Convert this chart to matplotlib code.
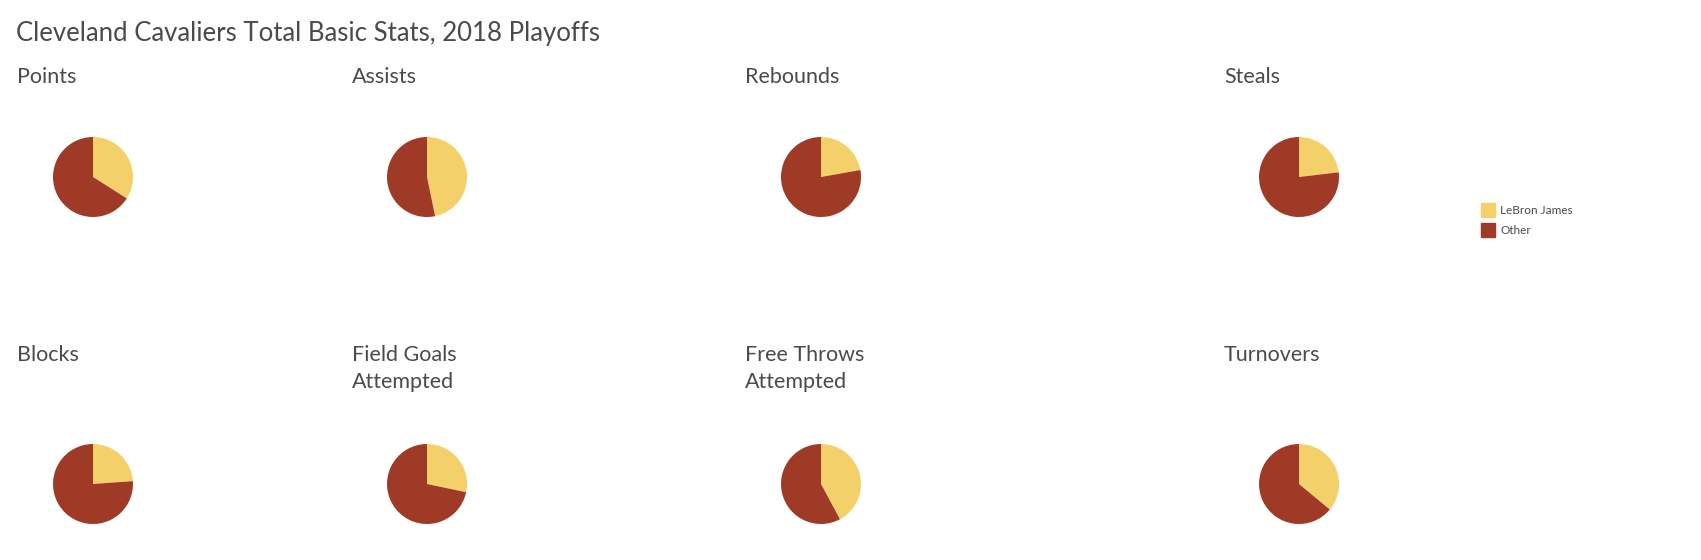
import matplotlib
matplotlib.use("Agg")
import matplotlib.pyplot as plt

# values (LeBron James vs rest of team)
stats = ["Points", "Assists", "Rebounds", "Steals",
         "Blocks", "Field Goals\nAttempted", "Free Throws\nAttempted", "Turnovers"]
lebron = [748, 201, 190, 31, 21, 539, 209, 94]
other = [1452, 229, 666, 103, 67, 1366, 287, 167]
series_names = ["LeBron James", "Other"]
colors = ["#F4D06B", "#9E3A26"]

W, H = 1701, 560
DPI = 100
TXT = "#4a4a4a"
plt.rcParams["font.family"] = ["Lato", "DejaVu Sans"]

fig = plt.figure(figsize=(W / DPI, H / DPI), dpi=DPI)


def px(x, y):
    # pixel coords (top-left origin) -> figure fraction
    return x / W, 1 - y / H


fig.text(*px(16, 33), "Cleveland Cavaliers Total Basic Stats, 2018 Playoffs",
         fontsize=18.5, color=TXT, va="center", ha="left")

col_text_x = [17, 352, 745, 1224]
col_pie_x = [93, 427, 821, 1299]
row_label_y = [77, 355]
row_pie_y = [177, 484]
R = 40
box = 100

for i, name in enumerate(stats):
    r, c = divmod(i, 4)
    lines = name.split("\n")
    for k, line in enumerate(lines):
        fig.text(*px(col_text_x[c], row_label_y[r] + 27 * k), line,
                 fontsize=15.5, color=TXT, va="center", ha="left")
    cx, cy = col_pie_x[c], row_pie_y[r]
    ax = fig.add_axes([(cx - box / 2) / W, 1 - (cy + box / 2) / H, box / W, box / H])
    ax.pie([lebron[i], other[i]], colors=colors, startangle=90,
           counterclock=False, radius=1.0,
           wedgeprops=dict(linewidth=0))
    lim = box / 2 / R
    ax.set_xlim(-lim, lim)
    ax.set_ylim(-lim, lim)
    ax.set_aspect("equal")
    ax.axis("off")

# legend
for j, (lab, col) in enumerate(zip(series_names, colors)):
    y0 = 203 + 20 * j
    fig.patches.append(plt.Rectangle(px(1481, y0 + 14), 14 / W, 14 / H,
                                     transform=fig.transFigure, color=col))
    fig.text(*px(1500, y0 + 7), lab, fontsize=8.5, color=TXT, va="center", ha="left")

fig.savefig("out.png", dpi=DPI, facecolor="white")
